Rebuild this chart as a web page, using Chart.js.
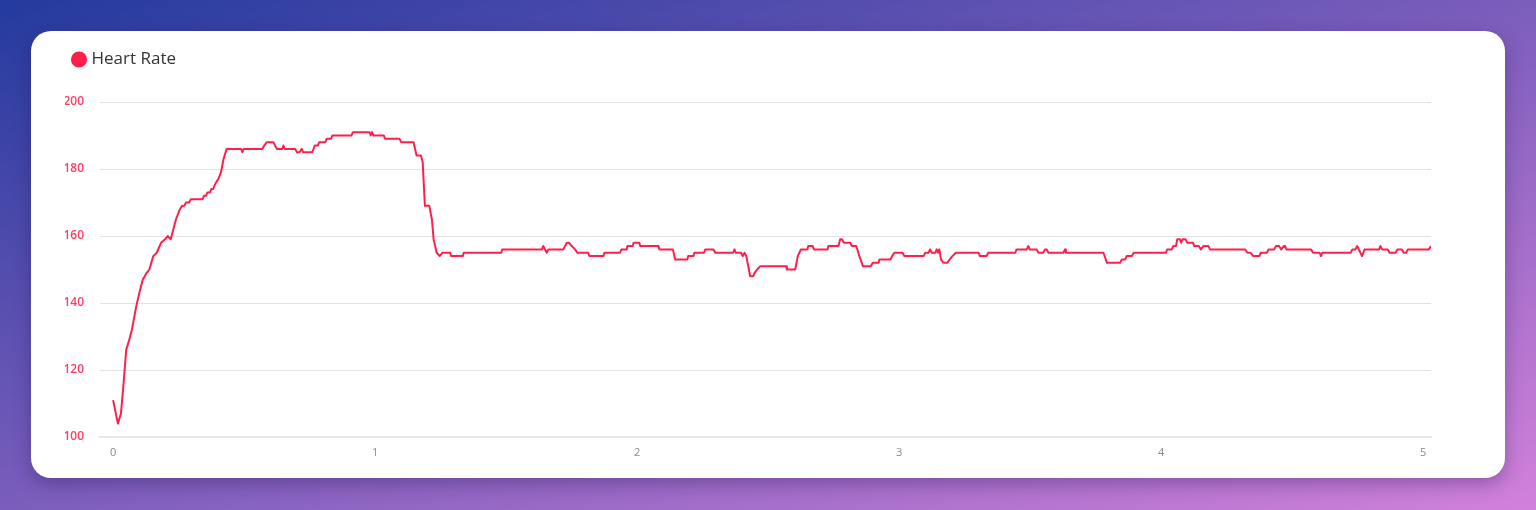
<!DOCTYPE html>
<html lang="en">

<head>
    <meta charset="UTF-8">
    <title>Heart Rate</title>
    <script src="https://cdn.jsdelivr.net/npm/chart.js@4.4.0/dist/chart.umd.min.js"></script>
    <style>
        html, body {
            margin: 0;
            width: 1536px;
            height: 510px;
            overflow: hidden;
        }
        body {
            background: linear-gradient(to bottom right, #243a9e, #d281da);
            font-family: "Open Sans", sans-serif;
        }
        .card {
            position: absolute;
            left: 31px;
            top: 31px;
            width: 1474px;
            height: 447px;
            background: #fff;
            border-radius: 20px;
            box-shadow: 0 6px 18px rgba(40, 20, 80, 0.35);
        }
        .graph-container {
            position: relative;
            width: 100%;
            height: 100%;
        }
    </style>
</head>

<body>
    <div class="card">
        <div class="graph-container">
            <canvas id="hrChart"></canvas>
        </div>
    </div>

    <script>
        // elapsed time (seconds) and heart rate (bpm)
        const seconds = [
            0, 1.1, 1.8, 2.4, 3.0, 3.7, 4.3, 5.3, 6.0, 6.8, 7.7, 8.3, 9.2, 10.0, 11.0, 11.9, 12.5, 13.2, 13.8, 14.4,
            15.3, 15.8, 16.3, 16.7, 17.4, 17.8, 20.5, 20.8, 21.3, 21.6, 22.2, 22.5, 22.9, 23.2, 23.6, 24.1, 24.7, 25.3, 26.0,
            29.3, 29.6, 29.9, 34.2, 34.6, 35.2, 36.7, 37.5, 38.7, 39.0, 39.3, 41.7, 42.1, 42.7, 43.2, 43.5,
            45.6, 46.2, 46.9, 47.2, 48.6, 48.9, 49.9, 50.2,
            54.6, 54.9, 58.7, 59.0, 59.3, 59.6, 62.0, 62.3, 65.6, 66.0, 68.8, 69.5, 70.5, 70.9, 71.4,
            72.4, 73.0, 73.4, 74.1, 74.8, 75.4, 77.2, 77.4, 80.1, 80.3, 88.9, 89.1, 98.2, 98.5, 99.3, 99.7, 103.1, 103.9, 104.4, 105.0,
            105.8, 106.3, 108.8, 109.1, 112.3, 112.5, 116.1, 116.4, 117.6, 117.8, 119.0, 119.2, 120.5, 120.7, 124.9, 125.1, 128.2, 128.7, 131.5, 131.7,
            132.9, 133.1, 135.3, 135.6, 137.5, 137.9, 142.0, 142.3, 142.6, 143.8, 144.2, 144.6, 145.0, 145.6, 145.9, 146.6, 146.9, 147.5, 148.2, 154.1,
            154.3, 156.2, 156.8, 157.5, 159.0, 159.2, 160.2, 160.5, 163.6, 163.8, 166.1, 166.5, 166.9, 167.4, 168.8, 169.2, 170.2, 170.9, 171.7, 173.5,
            174.0, 175.3, 175.5, 178.0, 178.4, 178.9, 180.8, 181.2, 185.6, 186.0, 186.7, 187.1, 187.5, 188.3, 188.6, 188.9, 189.2, 189.6, 190.1, 191.0,
            191.6, 192.2, 193.0, 198.2, 198.5, 200.0, 200.4, 206.6, 206.9, 209.2, 209.6, 209.9, 211.5, 211.9, 213.0, 213.4, 213.8, 214.2, 217.6, 218.0,
            218.2, 226.8, 227.6, 230.6, 231.0, 231.8, 232.1, 233.3, 233.7, 241.1, 241.4, 242.4, 242.8, 243.4, 243.7, 244.3, 244.6, 244.9, 245.6, 246.0,
            247.3, 247.6, 248.6, 249.1, 249.7, 250.8, 251.2, 259.2, 259.8, 260.5, 261.1, 262.5, 262.8, 264.2, 264.6, 265.9, 266.3, 267.0, 267.5, 268.1,
            268.4, 268.7, 274.3, 274.8, 276.3, 276.6, 276.9, 283.4, 283.8, 284.5, 284.9, 286.0, 286.6, 289.9, 290.2, 290.6, 291.9, 292.3, 293.7, 294.1,
            295.1, 295.6, 296.1, 296.5, 301.3, 301.8
        ];
        const bpm = [
            111, 104, 107, 116, 126, 129, 132, 139, 143, 147, 149, 150, 154, 155, 158, 159, 160, 159, 162, 165,
            168, 169, 169, 170, 170, 171, 171, 172, 172, 173, 173, 174, 174, 175, 176, 177, 179, 183, 186,
            186, 185, 186, 186, 187, 188, 188, 186, 186, 187, 186, 186, 185, 185, 186, 185,
            185, 187, 187, 188, 188, 189, 189, 190,
            190, 191, 191, 190, 191, 190, 190, 189, 189, 188, 188, 184, 184, 182, 169,
            169, 165, 159, 155, 154, 155, 155, 154, 154, 155, 155, 156, 156, 157, 155, 156, 156, 158, 158, 157,
            156, 155, 155, 154, 154, 155, 155, 156, 156, 157, 157, 158, 158, 157, 157, 156, 156, 153, 153, 154,
            154, 155, 155, 156, 156, 155, 155, 156, 155, 155, 154, 155, 154, 150, 148, 148, 149, 150, 151, 151,
            150, 150, 154, 156, 156, 157, 157, 156, 156, 157, 157, 159, 159, 158, 158, 157, 157, 154, 151, 151,
            152, 152, 153, 153, 154, 155, 155, 154, 154, 155, 155, 156, 155, 155, 156, 155, 156, 153, 152, 152,
            153, 154, 155, 155, 154, 154, 155, 155, 156, 156, 157, 156, 156, 155, 155, 156, 156, 155, 155, 156,
            155, 155, 152, 152, 153, 153, 154, 154, 155, 155, 156, 156, 157, 157, 159, 159, 158, 159, 159, 158,
            158, 157, 157, 156, 157, 157, 156, 156, 155, 155, 154, 154, 155, 155, 156, 156, 157, 157, 156, 157,
            157, 156, 156, 155, 155, 154, 155, 155, 156, 156, 157, 154, 156, 156, 157, 156, 156, 155, 155, 156,
            156, 155, 155, 156, 156, 157
        ];
        // x axis: minutes
        const xTickValues = [0, 60, 120, 180, 240, 300];
        const xTickLabels = ['0', '1', '2', '3', '4', '5'];
        const yTickValues = [100, 120, 140, 160, 180, 200];

        const lineRed = '#ff1f4b';

        const points = seconds.map((s, i) => ({ x: s, y: bpm[i] }));

        const ctx = document.getElementById('hrChart').getContext('2d');

        // extra room under the legend
        const legendMargin = {
            id: 'legendMargin',
            beforeInit(chart) {
                const fit = chart.legend.fit;
                chart.legend.fit = function () {
                    fit.bind(chart.legend)();
                    this.height += 24;
                };
            }
        };

        const chart = new Chart(ctx, {
            type: 'line',
            data: {
                datasets: [{
                    label: 'Heart Rate',
                    data: points,
                    borderColor: lineRed,
                    backgroundColor: lineRed,
                    borderWidth: 2,
                    borderJoinStyle: 'round',
                    pointRadius: 0,
                    tension: 0,
                    fill: false
                }]
            },
            options: {
                responsive: true,
                maintainAspectRatio: false,
                animation: false,
                layout: {
                    padding: { left: 34, right: 74, top: 10, bottom: 10 }
                },
                plugins: {
                    legend: {
                        display: true,
                        position: 'top',
                        align: 'start',
                        labels: {
                            usePointStyle: true,
                            pointStyle: 'circle',
                            boxWidth: 8,
                            boxHeight: 10,
                            color: '#333',
                            font: { family: '"Open Sans"', size: 17 }
                        }
                    },
                    tooltip: { enabled: false }
                },
                scales: {
                    x: {
                        type: 'linear',
                        min: -3,
                        max: 301.8,
                        afterBuildTicks: (s) => { s.ticks = xTickValues.map(v => ({ value: v })); },
                        afterFit: (s) => { s.height = 31; },
                        grid: { display: false, drawTicks: false },
                        border: { display: true, color: '#e3e8f3', width: 2 },
                        ticks: {
                            padding: 9,
                            color: '#8a8a8a',
                            font: { family: '"Open Sans"', size: 11 },
                            maxRotation: 0,
                            callback: (v, i) => xTickLabels[i]
                        }
                    },
                    y: {
                        min: 100,
                        max: 200,
                        afterBuildTicks: (s) => { s.ticks = yTickValues.map(v => ({ value: v })); },
                        afterFit: (s) => { s.width = 35; },
                        grid: { color: '#e2e2e2', drawTicks: false },
                        border: { display: false },
                        ticks: {
                            padding: 16,
                            color: '#ff3d67',
                            font: { family: '"Open Sans"', size: 12, weight: '600' }
                        }
                    }
                }
            },
            plugins: [legendMargin]
        });
    </script>
</body>

</html>
